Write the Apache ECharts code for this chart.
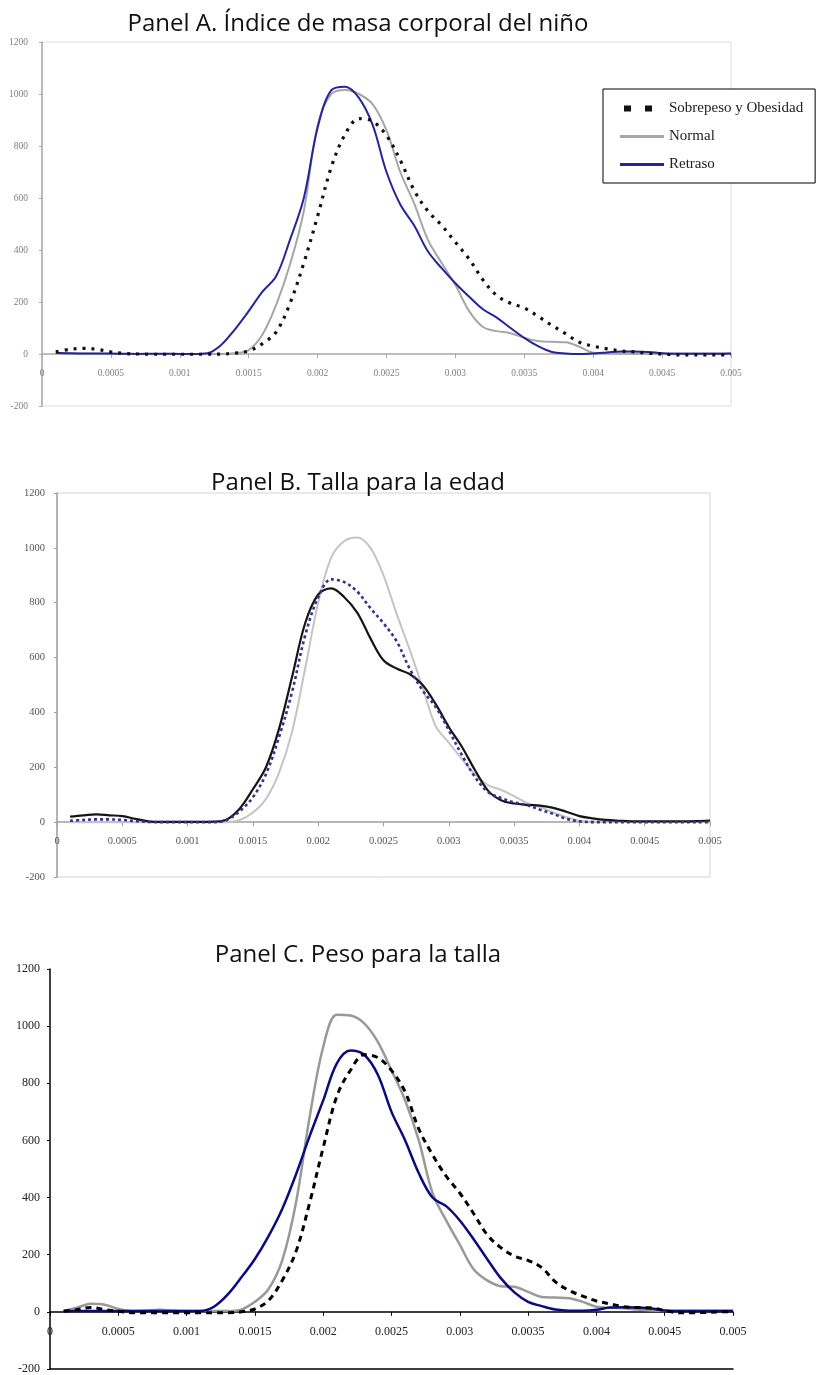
<!DOCTYPE html>
<html>
<head>
<meta charset="utf-8">
<script src="https://cdn.jsdelivr.net/npm/echarts@6/dist/echarts.min.js"></script>
<style>
html,body{margin:0;padding:0;background:#fff;}
#chart{width:816px;height:1375px;}
</style>
</head>
<body>
<div id="chart"></div>
<script>
// Shared x grid (index i -> value)
const xValues = [
  0.0001,0.0002,0.0003,0.0004,0.0005,0.0006,0.0007,0.0008,0.0009,0.0010,
  0.0011,0.0012,0.0013,0.0014,0.0015,0.0016,0.0017,0.0018,0.0019,0.0020,
  0.0021,0.0022,0.0023,0.0024,0.0025,0.0026,0.0027,0.0028,0.0029,0.0030,
  0.0031,0.0032,0.0033,0.0034,0.0035,0.0036,0.0037,0.0038,0.0039,0.0040,
  0.0041,0.0042,0.0043,0.0044,0.0045,0.0046,0.0047,0.0048,0.0049,0.0050
];

const seriesNames = ['Sobrepeso y Obesidad', 'Normal', 'Retraso'];
const panelTitles = [
  'Panel A. Índice de masa corporal del niño',
  'Panel B. Talla para la edad',
  'Panel C. Peso para la talla'
];

// Panel A
const aSobrepeso = [8,18,22,18,8,2,0,-1,-1,-1, -1,-1,0,3,12,40,85,195,350,530,
  720,845,905,895,840,745,630,550,495,430, 365,285,225,195,177,145,110,78,45,30,
  20,12,8,3,0,-3,-3,-3,-3,-3];
const aNormal = [3,2,1,1,0,0,0,0,0,0, 0,0,0,3,15,75,190,345,550,880,
  1000,1015,1000,960,860,700,580,440,350,265, 165,104,88,80,62,50,47,45,28,5,
  3,2,2,2,2,2,2,2,2,2];
const aRetraso = [5,3,2,2,2,1,0,1,1,0, 0,3,35,95,165,240,300,440,600,870,
  1015,1028,985,880,700,575,495,395,330,272, 220,172,140,100,62,30,8,2,0,2,
  6,10,10,8,3,1,1,1,1,2];

// Panel B
const bGray = [0,0,0,0,0,0,0,0,0,0, 0,0,0,8,35,85,180,330,560,800,
  965,1025,1038,1000,900,760,630,490,350,290, 230,175,135,118,95,70,55,35,18,5,
  1,1,1,1,1,1,1,1,1,1];
const bDashed = [5,8,10,10,8,4,1,0,0,0, 0,0,8,40,91,175,310,475,680,820,
  885,875,840,780,725,660,560,480,420,335, 245,165,110,88,72,62,45,30,12,3,
  0,0,0,0,0,0,0,0,0,0];
const bSolid = [20,25,28,25,22,12,3,1,1,1, 1,2,10,50,120,200,340,530,725,830,
  852,820,763,670,590,560,540,500,430,347, 275,190,115,80,68,63,60,52,38,22,
  14,8,5,3,3,3,3,3,4,6];

// Panel C
const cSobrepeso = [2,8,15,8,2,-3,-3,-3,-3,-3, -3,-3,-3,0,10,40,110,210,380,575,
  755,846,900,890,845,770,640,550,475,416, 345,270,225,195,180,155,105,75,55,38,
  28,18,15,14,5,-3,-3,-2,0,0];
const cNormal = [3,15,28,25,10,3,5,7,5,3, 3,3,3,8,35,80,180,380,680,927,
  1040,1037,1010,945,845,740,600,416,320,235, 150,110,90,88,70,52,50,48,35,18,
  14,13,8,5,4,4,4,4,4,4];
const cRetraso = [3,3,3,3,3,3,3,3,3,3, 3,18,60,120,185,265,360,480,614,740,
  870,915,900,830,700,600,485,400,370,320, 255,185,118,68,35,20,8,4,4,7,
  15,16,15,12,5,3,3,3,3,3];

function pairs(arr){ return xValues.map((x,i)=>[x, arr[i]]); }

const grids = [
  {left:42, top:42, width:689, height:364, show:true, borderColor:'#dcdcdc', borderWidth:1},
  {left:57, top:493, width:653, height:384, show:true, borderColor:'#d4d4d4', borderWidth:1},
  {left:50, top:969, width:683, height:400, show:false}
];

const axisStyles = [
  {line:'#a8a8a8', label:'#808080', size:9.5, yMargin:14, xMargin:28},
  {line:'#a0a0a0', label:'#555', size:10.5, yMargin:12, xMargin:30},
  {line:'#000', label:'#222', size:12, yMargin:10, xMargin:31}
];

const xAxes = [], yAxes = [];
axisStyles.forEach((s,g)=>{
  xAxes.push({
    type:'value', gridIndex:g, min:0, max:0.005, interval:0.0005,
    axisLine:{show:true, onZero:true, lineStyle:{color:s.line, width:1.5}},
    axisTick:{show:true, length:4, inside:false, lineStyle:{color:s.line}},
    axisLabel:{inside:true, color:s.label, fontSize:s.size, fontFamily:'Liberation Serif', margin:s.xMargin,
      showMinLabel:true, showMaxLabel:true},
    splitLine:{show:false}
  });
  yAxes.push({
    type:'value', gridIndex:g, min:-200, max:1200, interval:200,
    axisLine:{show:true, onZero:false, lineStyle:{color:s.line, width:1.5}},
    axisTick:{show:true, length:3, lineStyle:{color:s.line}},
    axisLabel:{color:s.label, fontSize:s.size, fontFamily:'Liberation Serif', margin:s.yMargin,
      formatter:(v)=>String(v)},
    splitLine:{show:false}
  });
});
// bottom frame line of panel C at -200
xAxes.push({
  type:'value', gridIndex:2, min:0, max:0.005, position:'bottom',
  axisLine:{show:true, onZero:false, lineStyle:{color:'#000', width:1.5}},
  axisTick:{show:false}, axisLabel:{show:false}, splitLine:{show:false}
});

function line(name, g, data, color, width, dash, z){
  return {
    name:name, type:'line', xAxisIndex:g, yAxisIndex:g, data:pairs(data),
    showSymbol:false, symbol:'none', smooth:0.35, z:z||2,
    lineStyle:{color:color, width:width, type: dash || 'solid', cap:'butt'},
    itemStyle:{color:color}, emphasis:{disabled:true}, animation:false
  };
}

const series = [
  line(seriesNames[0], 0, aSobrepeso, '#111', 3.2, [3,6], 3),
  line(seriesNames[1], 0, aNormal, '#a6a6a6', 2, null, 2),
  line(seriesNames[2], 0, aRetraso, '#25259a', 2, null, 2),

  line('B ' + seriesNames[1], 1, bGray, '#c4c4c4', 2, null, 1),
  line('B ' + seriesNames[0], 1, bDashed, '#33338c', 2.6, [3,3], 3),
  line('B ' + seriesNames[2], 1, bSolid, '#151515', 2.2, null, 2),

  line('C ' + seriesNames[0], 2, cSobrepeso, '#000', 3, [6,5], 3),
  line('C ' + seriesNames[1], 2, cNormal, '#999999', 2.5, null, 1),
  line('C ' + seriesNames[2], 2, cRetraso, '#0b0b80', 2.5, null, 2)
];

const titleTops = [12, 471, 943];
const option = {
  backgroundColor:'#fff',
  animation:false,
  title: panelTitles.map((t,i)=>({
    text:t, left:358, top:titleTops[i], textAlign:'center', padding:0,
    textStyle:{fontFamily:'Open Sans', fontWeight:'normal', fontSize:24, color:'#111'}
  })),
  legend:{
    data: [
      {name: seriesNames[0], lineStyle:{width:6, type:[7,14], dashOffset:-4}},
      {name: seriesNames[1], lineStyle:{width:3}},
      {name: seriesNames[2], lineStyle:{width:3}}
    ],
    orient:'vertical', left:603, top:89,
    padding:[12,12,11,14], itemGap:13, itemWidth:44, itemHeight:14,
    backgroundColor:'#fff', borderColor:'#000', borderWidth:1, borderRadius:0,
    itemStyle:{opacity:0},
    textStyle:{fontFamily:'Liberation Serif', fontSize:15, color:'#222'},
    selectedMode:false
  },
  grid: grids,
  xAxis: xAxes,
  yAxis: yAxes,
  series: series
};

const chart = echarts.init(document.getElementById('chart'), null, {renderer:'canvas'});
chart.setOption(option);
</script>
</body>
</html>
